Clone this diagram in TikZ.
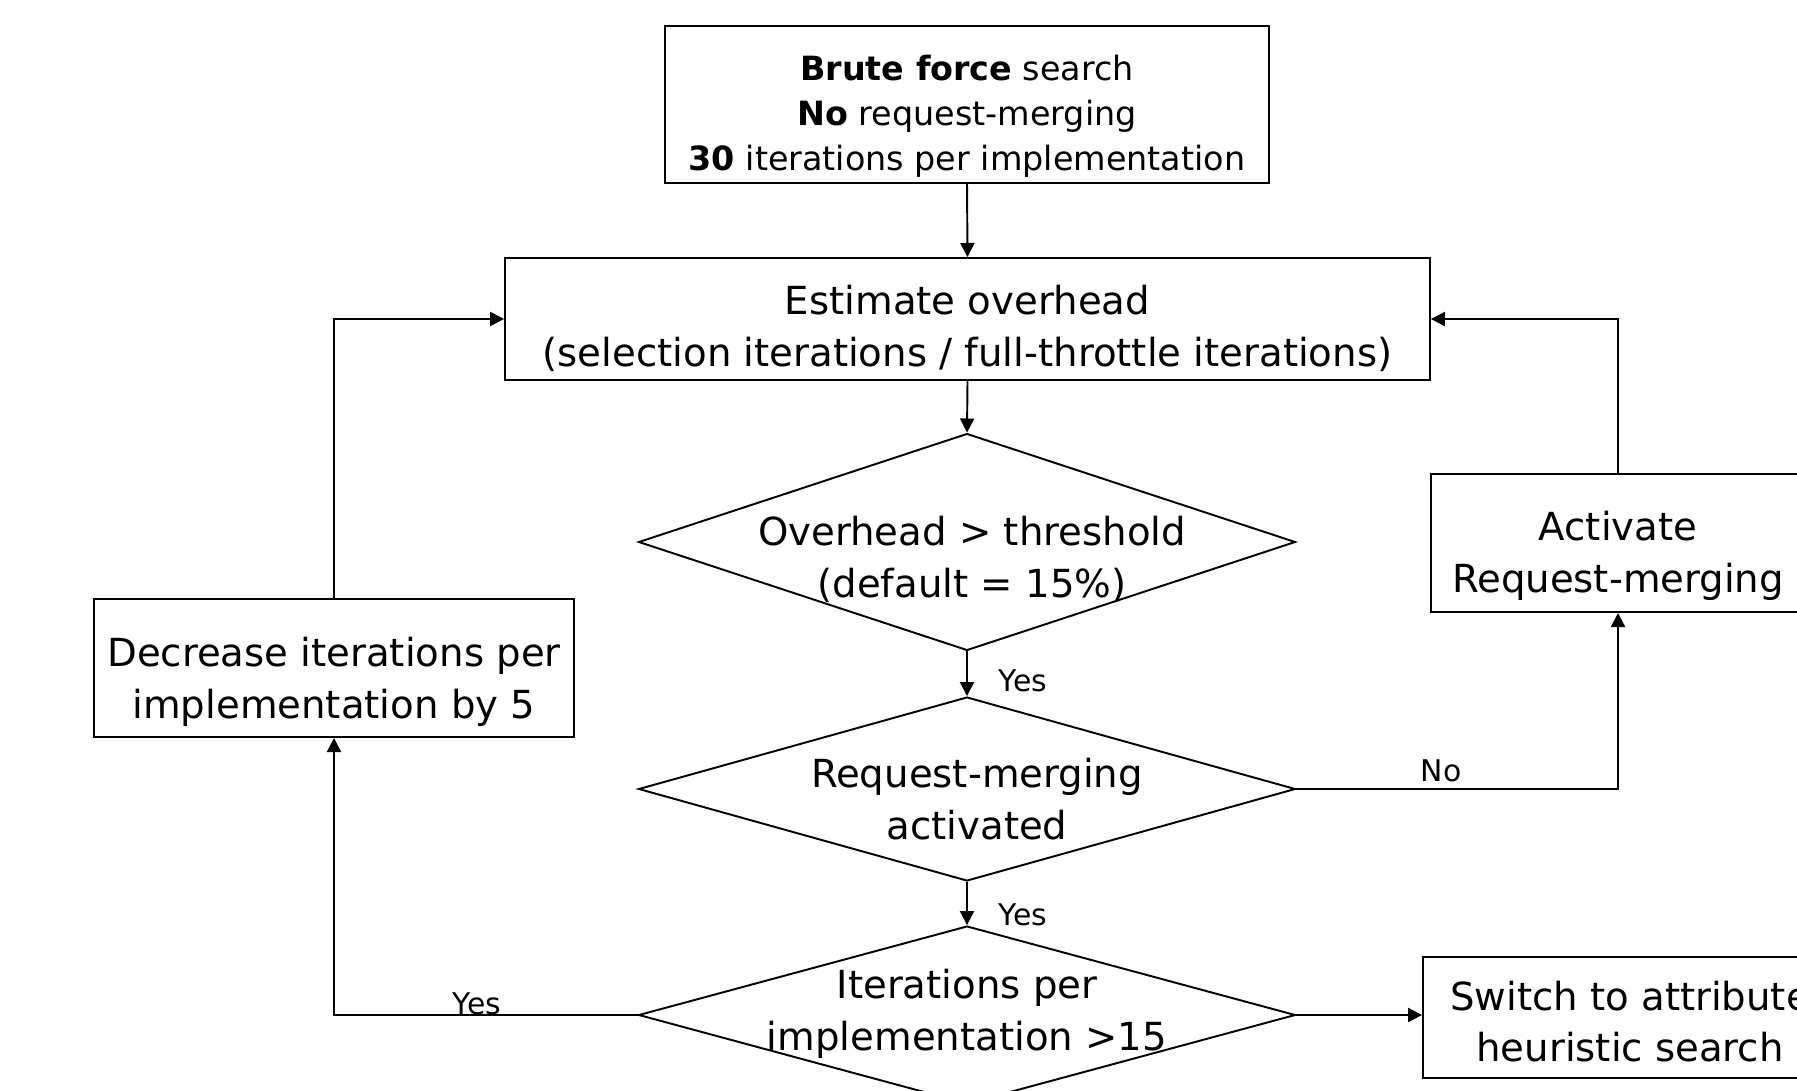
\documentclass[tikz,border=0pt]{standalone}
\usepackage{fontspec}
\setmainfont{DejaVu Sans}
\usetikzlibrary{arrows.meta,shapes.geometric}

\begin{document}
\begin{tikzpicture}[x=0.02cm,y=-0.02cm,
  box/.style={draw=black, line width=1.1pt, inner sep=0pt},
  decision/.style={draw=black, line width=1.1pt, diamond, inner sep=0pt},
  btext/.style={align=center, inner sep=0pt, font=\fontsize{22}{29.5}\selectfont},
  lbl/.style={inner sep=0pt, font=\fontsize{17}{20}\selectfont},
  arr/.style={line width=1.1pt, -{Triangle[length=8pt, width=8pt]}}]
\useasboundingbox (0,0) rectangle (1797,1091);

% boxes
\node[box, minimum width=12.08cm, minimum height=3.14cm] (start) at (967,104.5) {};
\node[btext, font=\fontsize{19}{25.5}\selectfont] (starttext) at (967,116)
  {\textbf{Brute force} search\\ \textbf{No} request-merging\\ \textbf{30} iterations per implementation};
\node[box, minimum width=18.5cm, minimum height=2.44cm] (est) at (967.5,319) {};
\node[btext] (esttext) at (967.5,328)
  {Estimate overhead\\(selection iterations / full-throttle iterations)};
\node[box, minimum width=9.6cm, minimum height=2.76cm] (dec) at (334,668) {};
\node[btext] (dectext) at (334,682) {Decrease iterations per\\implementation by 5};
\node[box, minimum width=7.48cm, minimum height=2.76cm] (act) at (1618,543) {};
\node[btext] (acttext) at (1618,556) {Activate\\Request-merging};
\node[box, minimum width=8.28cm, minimum height=2.42cm] (switch) at (1630,1017.5) {};
\node[btext] (switchtext) at (1630,1021.5) {Switch to attribute\\heuristic search};

% decisions
\node[decision, minimum width=13.14cm, minimum height=4.34cm] (over) at (967,542) {};
\node[btext] (overtext) at (972,559) {Overhead > threshold\\(default = 15\%)};
\node[decision, minimum width=13.14cm, minimum height=3.68cm] (req) at (967,789) {};
\node[btext] (reqtext) at (977,799) {Request-merging\\activated};
\node[decision, minimum width=13.14cm, minimum height=3.56cm] (iter) at (967,1015) {};
\node[btext] (itertext) at (967,1014) {Iterations per\\implementation >15};

% connectors
\draw[arr] (start.south) -- (est.north);
\draw[arr] (est.south) -- (over.north);
\draw[arr] (over.south) -- (req.north);
\draw[arr] (req.south) -- (iter.north);
\draw[arr] (req.east) -| (act.south);
\draw[arr] (act.north) |- (est.east);
\draw[arr] (iter.west) -| (dec.south);
\draw[arr] (dec.north) |- (est.west);
\draw[arr] (iter.east) -- (iter.east -| switch.west);

\node[lbl] (yes1) at (1023,681) {Yes};
\node[lbl] (yes2) at (1023,915) {Yes};
\node[lbl] (no) at (1441,771) {No};
\node[lbl] (yes3) at (477,1004) {Yes};
\end{tikzpicture}
\end{document}
